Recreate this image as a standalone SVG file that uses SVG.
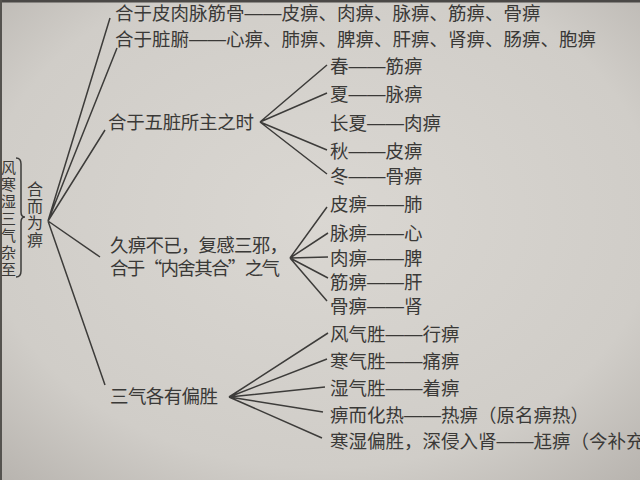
<svg xmlns="http://www.w3.org/2000/svg" width="640" height="480" viewBox="0 0 640 480">
<defs>
<radialGradient id="paper" cx="0.5" cy="0.45" r="0.75">
<stop offset="0" stop-color="#dad7d2"/>
<stop offset="0.7" stop-color="#d0cdc8"/>
<stop offset="1" stop-color="#b7b3ae"/>
</radialGradient>
<style>
text{font-family:"Noto Sans CJK SC","Noto Sans CJK TC",sans-serif;font-size:18.5px;fill:#3a3937;dominant-baseline:central}
.d{font-family:"Liberation Sans",sans-serif}
.v{font-size:15px;writing-mode:vertical-rl;letter-spacing:2px}
.r{font-size:16px;writing-mode:vertical-rl;letter-spacing:1px}
.ln{stroke:#3d3c3a;stroke-width:1.5;fill:none}
</style>
</defs>
<rect width="640" height="480" fill="url(#paper)"/>
<rect x="0" y="0" width="640" height="2.5" fill="#4a4846"/>
<rect x="0" y="0" width="2" height="480" fill="#55534f"/>

<g id="left-label">
<text class="v" x="8.5" y="160">风寒湿三气杂至</text>
<path class="ln" stroke-width="1.2" d="M16,158 Q21,158 21,164 L21,212 Q21,217 25,217 Q21,217 21,222 L21,271 Q21,277 16,277"/>
</g>

<g id="root">
<text class="r" x="35" y="181">合而为痹</text>
</g>

<g id="connectors">
<path class="ln" d="M48,221 L110,18 M48,221 L117,48 M48,221 L105,130 M48,221 L100,257 M48,221 L105,385"/>
<path class="ln" d="M260,122 L327,65 M260,122 L327,93 M260,122 L327,150 M260,122 L327,174"/>
<path class="ln" d="M290,258 L327,207 M290,258 L328,233 M290,258 L328,257 M290,258 L328,278 M290,258 L327,301"/>
<path class="ln" d="M229,397 L328,333 M229,397 L327,359 M229,397 L325,387 M229,397 L323,412 M229,397 L322,438"/>
</g>

<g id="n-pirou">
<text x="115" y="12">合于皮肉脉筋骨<tspan class="d">——</tspan>皮痹、肉痹、脉痹、筋痹、骨痹</text>
</g>
<g id="n-zangfu">
<text x="115" y="38">合于脏腑<tspan class="d">——</tspan>心痹、肺痹、脾痹、肝痹、肾痹、肠痹、胞痹</text>
</g>

<g id="n-wuzang">
<text x="108" y="121" textLength="146">合于五脏所主之时</text>
</g>
<g id="n-chun"><text x="330" y="65">春<tspan class="d">——</tspan>筋痹</text></g>
<g id="n-xia"><text x="330" y="93">夏<tspan class="d">——</tspan>脉痹</text></g>
<g id="n-changxia"><text x="330" y="122">长夏<tspan class="d">——</tspan>肉痹</text></g>
<g id="n-qiu"><text x="330" y="150">秋<tspan class="d">——</tspan>皮痹</text></g>
<g id="n-dong"><text x="330" y="175">冬<tspan class="d">——</tspan>骨痹</text></g>

<g id="n-jiubi">
<text><tspan x="110" y="244" textLength="178">久痹不已，复感三邪，</tspan><tspan x="110" y="267" textLength="170">合于“内舍其合”之气</tspan></text>
</g>
<g id="n-pibi"><text x="330" y="203">皮痹<tspan class="d">——</tspan>肺</text></g>
<g id="n-maibi"><text x="330" y="232">脉痹<tspan class="d">——</tspan>心</text></g>
<g id="n-roubi"><text x="330" y="257">肉痹<tspan class="d">——</tspan>脾</text></g>
<g id="n-jinbi"><text x="330" y="281">筋痹<tspan class="d">——</tspan>肝</text></g>
<g id="n-gubi"><text x="330" y="305">骨痹<tspan class="d">——</tspan>肾</text></g>

<g id="n-sanqi">
<text x="110" y="395" textLength="108">三气各有偏胜</text>
</g>
<g id="n-feng"><text x="330" y="333">风气胜<tspan class="d">——</tspan>行痹</text></g>
<g id="n-han"><text x="330" y="360">寒气胜<tspan class="d">——</tspan>痛痹</text></g>
<g id="n-shi"><text x="330" y="387">湿气胜<tspan class="d">——</tspan>着痹</text></g>
<g id="n-re"><text x="330" y="414">痹而化热<tspan class="d">——</tspan>热痹（原名痹热）</text></g>
<g id="n-wang"><text x="330" y="440">寒湿偏胜，深侵入肾<tspan class="d">——</tspan>尪痹（今补充</text></g>
</svg>
